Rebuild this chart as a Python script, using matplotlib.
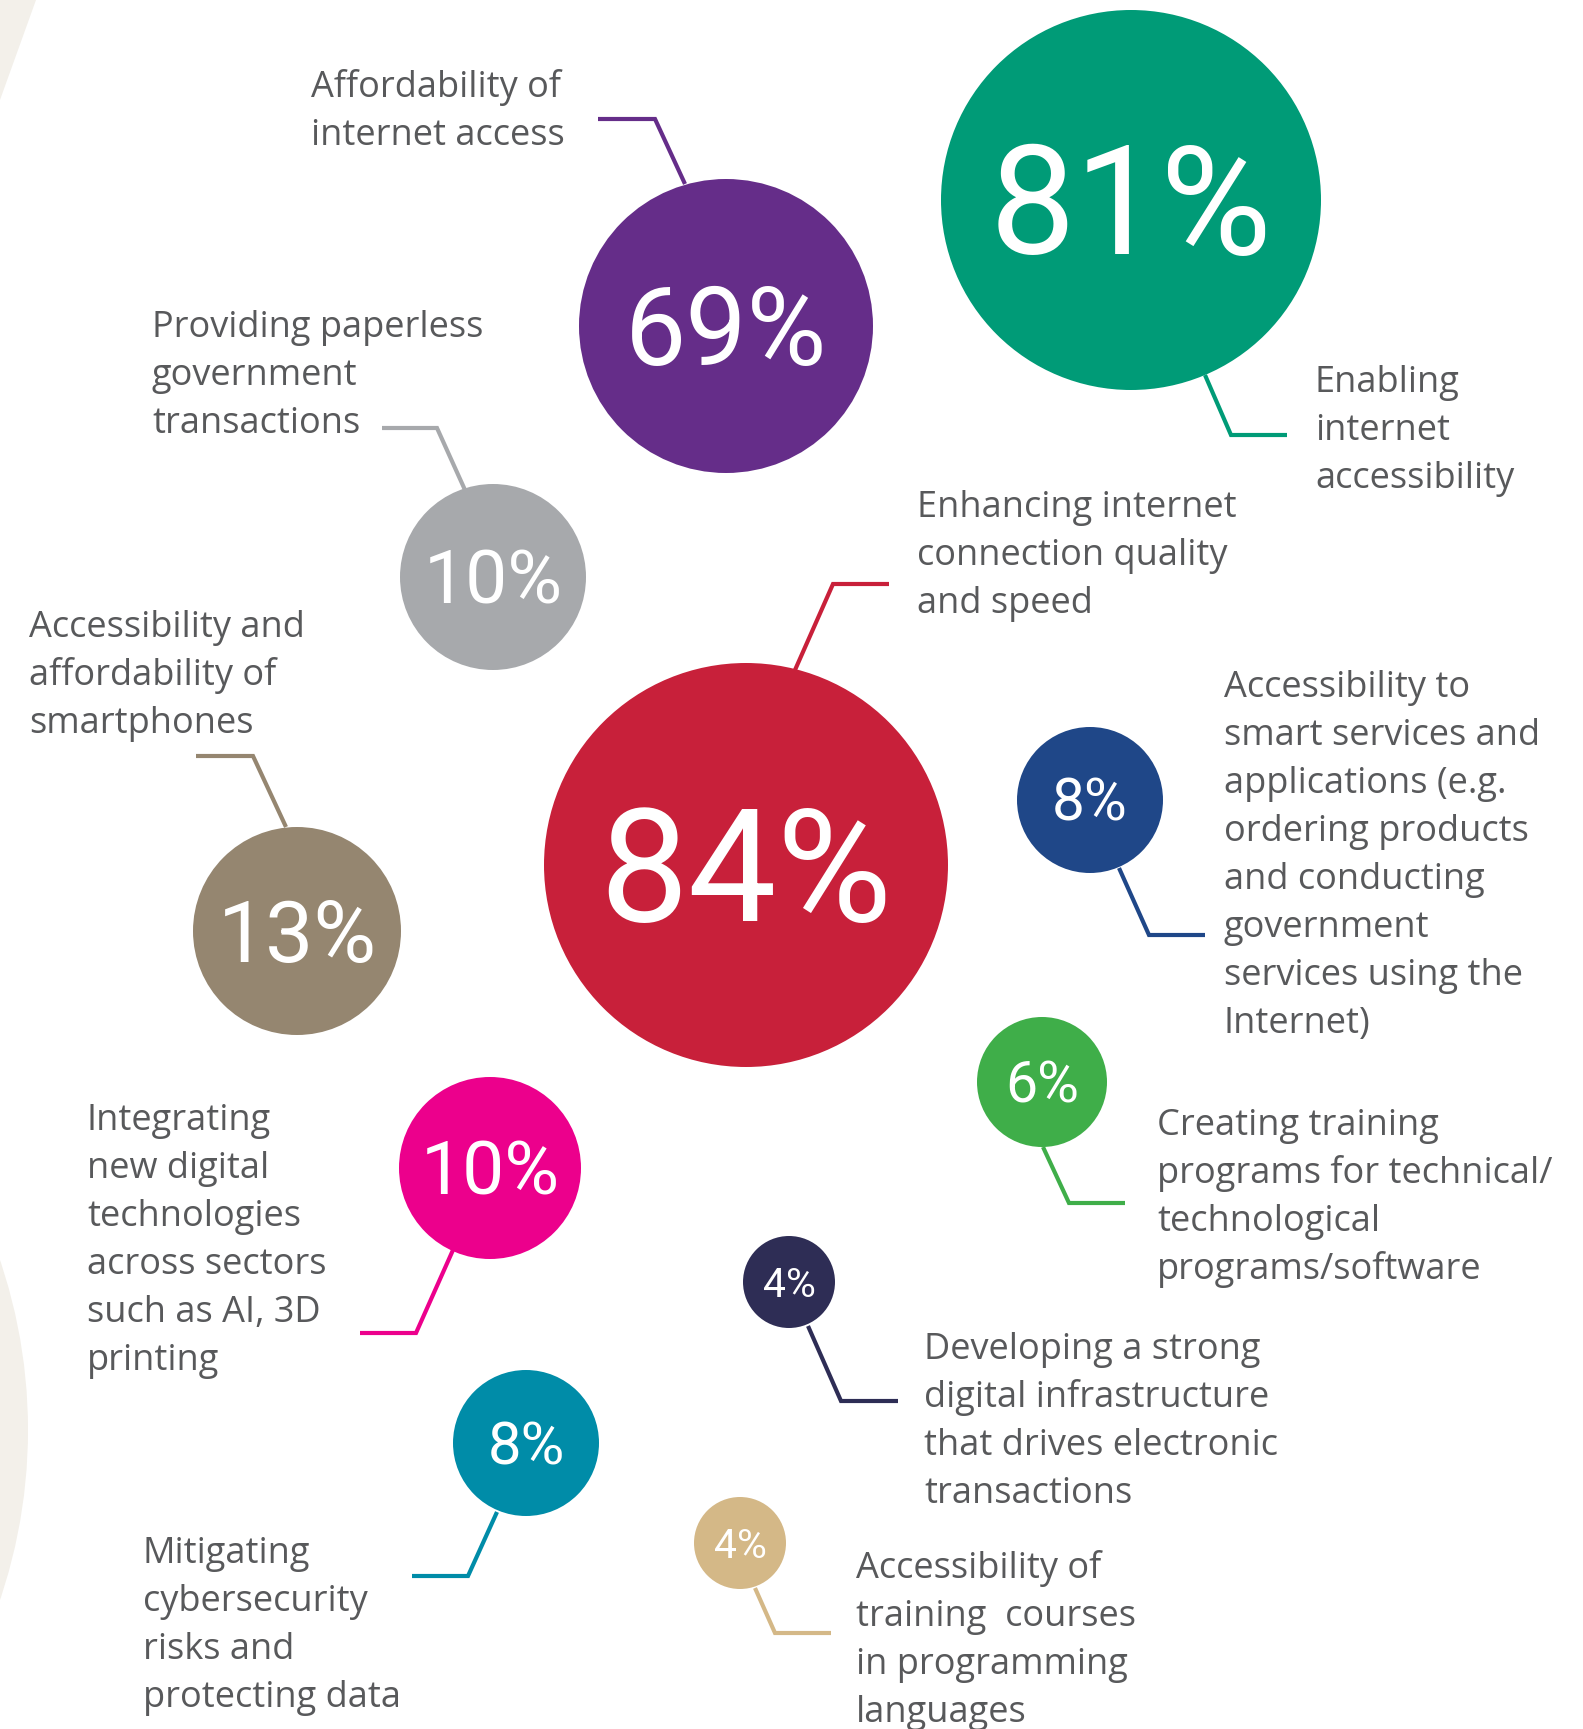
import matplotlib
matplotlib.use("Agg")
import matplotlib.pyplot as plt
from matplotlib.patches import Circle, Polygon

# ---------------- data ----------------
categories = [
    "Enabling\ninternet\naccessibility",
    "Affordability of\ninternet access",
    "Providing paperless\ngovernment\ntransactions",
    "Enhancing internet\nconnection quality\nand speed",
    "Accessibility and\naffordability of\nsmartphones",
    "Accessibility to\nsmart services and\napplications (e.g.\nordering products\nand conducting\ngovernment\nservices using the\nInternet)",
    "Creating training\nprograms for technical/\ntechnological\nprograms/software",
    "Integrating\nnew digital\ntechnologies\nacross sectors\nsuch as AI, 3D\nprinting",
    "Developing a strong\ndigital infrastructure\nthat drives electronic\ntransactions",
    "Mitigating\ncybersecurity\nrisks and\nprotecting data",
    "Accessibility of\ntraining  courses\nin programming\nlanguages",
]
values = [81, 69, 10, 84, 13, 8, 6, 10, 4, 8, 4]

# ---------------- styles / layout (pixel space) ----------------
colors = ["#009B77", "#652D89", "#A7A9AC", "#C8203A", "#958670", "#1F4788",
          "#3FAE49", "#EC008C", "#2E2D55", "#008CA8", "#D4B887"]
centers = [(1131, 200), (726, 326), (493, 577), (746, 865), (297, 931), (1090, 800),
           (1042, 1082), (490, 1168), (789, 1282), (526, 1443), (740, 1543)]
radii = [190, 147, 93, 202, 104, 73, 65, 91, 46, 73, 46]
num_cap = [112, 80, 55, 116, 63, 43, 42, 55, 30, 44, 30]
label_xy = [(1315, 392), (311, 97), (152, 337), (917, 517), (29, 637), (1224, 697),
            (1157, 1135), (87, 1130), (924, 1359), (143, 1563), (856, 1578)]
leaders = [
    [(1205, 375), (1231, 435), (1287, 435)],
    [(685, 184), (655, 119), (598, 119)],
    [(465, 490), (437, 428), (382, 428)],
    [(795, 670), (833, 584), (889, 584)],
    [(286, 827), (253, 756), (196, 756)],
    [(1119, 868), (1149, 935), (1205, 935)],
    [(1043, 1147), (1069, 1203), (1125, 1203)],
    [(453, 1250), (416, 1333), (360, 1333)],
    [(808, 1326), (841, 1401), (898, 1401)],
    [(497, 1512), (468, 1576), (412, 1576)],
    [(755, 1588), (775, 1633), (831, 1633)],
]
LINE_STEP = 48
TEXT_COLOR = "#58595B"
W, H = 1583, 1729

fig = plt.figure(figsize=(W / 100, H / 100), dpi=100)
ax = fig.add_axes([0, 0, 1, 1])
ax.set_xlim(0, W)
ax.set_ylim(H, 0)
ax.set_aspect("equal")
ax.axis("off")

# background decorative shapes
bg = "#F3F0EA"
ax.add_patch(Polygon([(0, 0), (36, 0), (0, 100)], closed=True, color=bg, lw=0, zorder=0))
ax.add_patch(Circle((28 - 530, 1430), 530, color=bg, lw=0, zorder=0))

for i, v in enumerate(values):
    cx, cy = centers[i]
    ax.add_patch(Circle((cx, cy), radii[i], color=colors[i], lw=0, zorder=2))
    xs = [p[0] for p in leaders[i]]
    ys = [p[1] for p in leaders[i]]
    ax.plot(xs, ys, color=colors[i], lw=3, solid_joinstyle="miter",
            solid_capstyle="butt", zorder=1)
    ax.text(cx, cy + num_cap[i] * 0.97 / 2, f"{v}%", color="white",
            fontsize=num_cap[i] * 0.98, fontfamily="Roboto", fontweight="normal",
            ha="center", va="baseline", zorder=3)
    lx, ly = label_xy[i]
    for j, line in enumerate(categories[i].split("\n")):
        ax.text(lx, ly + j * LINE_STEP, line, color=TEXT_COLOR, fontsize=26,
                fontfamily="Open Sans", ha="left", va="baseline", zorder=3)

fig.savefig("out.png", dpi=100, facecolor="white")
